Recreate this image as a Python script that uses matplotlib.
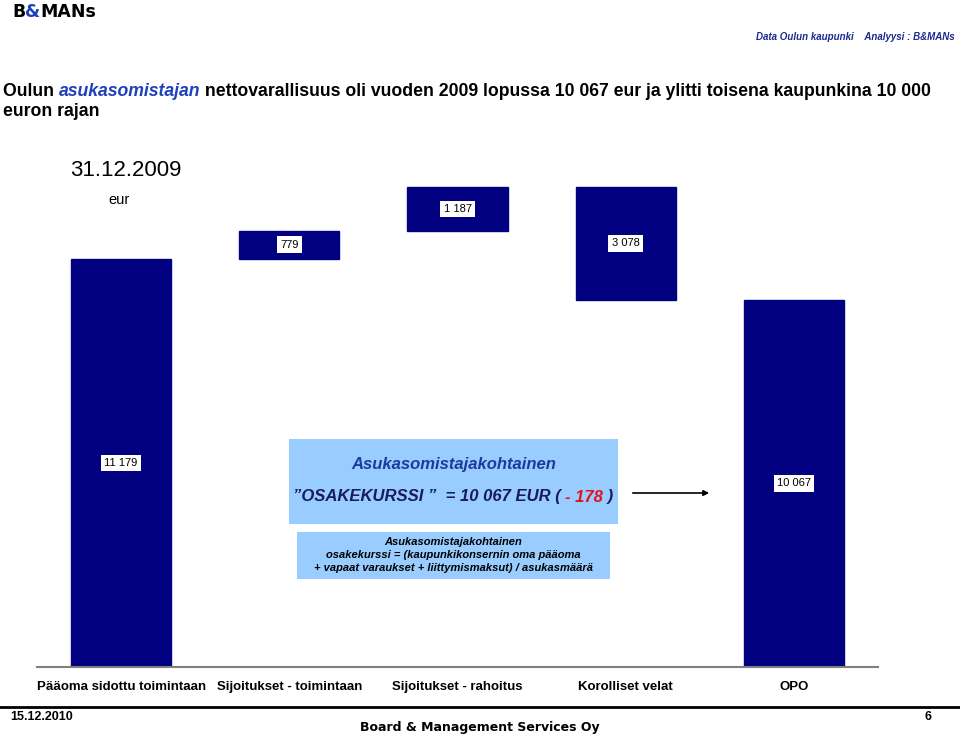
import matplotlib
matplotlib.use("Agg")
import matplotlib.pyplot as plt
from matplotlib import font_manager as fm
from matplotlib.patches import Rectangle, FancyArrowPatch

categories = ["Pääoma sidottu toimintaan", "Sijoitukset - toimintaan",
              "Sijoitukset - rahoitus", "Korolliset velat", "OPO"]
start_value = 11179
changes = [779, 1187, -3078]
end_value = 10067
value_labels = ["11 179", "779", "1 187", "3 078", "10 067"]

names = {f.name for f in fm.fontManager.ttflist}
NARROW = "Liberation Sans Narrow" if "Liberation Sans Narrow" in names else "Liberation Sans"
SANS = "Liberation Sans"
HEAD = "DejaVu Sans"

NAVY = "#000080"
W, H = 960, 735
fig = plt.figure(figsize=(9.6, 7.35), dpi=100)
renderer = fig.canvas.get_renderer()

def fx(x): return x / W
def fy(y): return 1 - y / H

# waterfall geometry from data
bottoms, heights = [0], [start_value]
running = start_value
for d in changes:
    bottoms.append(running if d > 0 else running + d)
    heights.append(abs(d))
    running += d
bottoms.append(0)
heights.append(end_value)

# axes
px_per_unit = 408 / 11179.0
ymax = 14000
ax_h = ymax * px_per_unit
ax = fig.add_axes([fx(37), fy(667), 841 / W, ax_h / H])
ax.set_xlim(-0.5, 4.5)
ax.set_ylim(0, ymax)
xs = list(range(len(categories)))
ax.bar(xs, heights, bottom=bottoms, width=0.595, color=NAVY, edgecolor=NAVY, zorder=2)
for s in ["top", "right", "left"]:
    ax.spines[s].set_visible(False)
ax.spines["bottom"].set_color("#808080")
ax.spines["bottom"].set_linewidth(1.5)
ax.set_yticks([])
ax.set_xticks(xs)
ax.set_xticklabels(categories, fontfamily=NARROW, fontweight="bold", fontsize=9.5)
ax.tick_params(axis="x", length=0, pad=10)

for x, b, h, lab in zip(xs, bottoms, heights, value_labels):
    ax.text(x, b + h / 2, lab, ha="center", va="center", fontsize=8, fontfamily=NARROW,
            bbox=dict(boxstyle="square,pad=0.3", facecolor="white", edgecolor="none"), zorder=3)

# text boxes
fig.patches.append(Rectangle((fx(289), fy(524)), (618 - 289) / W, (524 - 439) / H,
                             transform=fig.transFigure, facecolor="#99CCFF", edgecolor="none", zorder=3))
fig.patches.append(Rectangle((fx(297), fy(579)), (610 - 297) / W, (579 - 532) / H,
                             transform=fig.transFigure, facecolor="#99CCFF", edgecolor="none", zorder=3))
fig.text(fx(454), fy(465), "Asukasomistajakohtainen", ha="center", va="center", fontsize=12,
         fontstyle="italic", fontweight="bold", color="#1F3A9F", fontfamily=SANS, zorder=4)

# second line with red part
pieces = [("\u201dOSAKEKURSSI \u201d  = 10 067 EUR ( ", "#1A1A5E"), ("- 178", "#E0141E"), (" )", "#1A1A5E")]
tmp = []
total = 0
for txt, c in pieces:
    t = fig.text(0, 0, txt, fontsize=12, fontstyle="italic", fontweight="bold", fontfamily=SANS)
    w = t.get_window_extent(renderer).width
    tmp.append((t, w, c))
    total += w
x0 = 453 - total / 2
for t, w, c in tmp:
    t.set_position((fx(x0), fy(497)))
    t.set_va("center"); t.set_color(c); t.set_zorder(4)
    x0 += w

box2 = ["Asukasomistajakohtainen",
        "osakekurssi = (kaupunkikonsernin oma pääoma",
        "+ vapaat varaukset + liittymismaksut) / asukasmäärä"]
for i, line in enumerate(box2):
    fig.text(fx(453), fy(542 + 13 * i), line, ha="center", va="center", fontsize=8,
             fontstyle="italic", fontweight="bold", fontfamily=NARROW, color="black", zorder=4)

fig.patches.append(FancyArrowPatch((fx(630), fy(493)), (fx(712), fy(493)), transform=fig.transFigure,
                                   arrowstyle="-|>", mutation_scale=8, color="black", lw=1.2))

# header
parts = [("B", "black"), ("&", "#1F3FBF"), ("MANs", "black")]
x0 = 12
for txt, c in parts:
    t = fig.text(fx(x0), fy(12), txt, fontsize=12.5, fontweight="bold", fontfamily=HEAD, color=c, va="center")
    x0 += t.get_window_extent(renderer).width
fig.text(fx(955), fy(37), "Data Oulun kaupunki    Analyysi : B&MANs", ha="right", va="center",
         fontsize=7, fontstyle="italic", fontweight="bold", fontfamily=SANS, color="#1A2A8F")

# title (auto-fit line 1 to reference width)
title1 = [("Oulun ", "black", "normal"), ("asukasomistajan", "#1F3FBF", "italic"),
          (" nettovarallisuus oli vuoden 2009 lopussa 10 067 eur ja ylitti toisena kaupunkina 10 000", "black", "normal")]
TFONT = SANS
fs = 13
tw = 0
for txt, c, st in title1:
    t = fig.text(0, 0, txt, fontsize=fs, fontweight="bold", fontstyle=st, fontfamily=TFONT)
    tw += t.get_window_extent(renderer).width
    t.remove()
fs = fs * 924 / tw
x0 = 3
for txt, c, st in title1:
    t = fig.text(fx(x0), fy(91), txt, fontsize=fs, fontweight="bold", fontstyle=st,
                 fontfamily=TFONT, color=c, va="center")
    x0 += t.get_window_extent(renderer).width
fig.text(fx(3), fy(111), "euron rajan", fontsize=fs, fontweight="bold", fontfamily=TFONT, va="center")

fig.text(fx(70), fy(170), "31.12.2009", fontsize=16, fontfamily=NARROW, va="center")
fig.text(fx(119), fy(200), "eur", fontsize=10.5, fontfamily=NARROW, va="center", ha="center")

# footer
fig.add_artist(plt.Line2D([0, 1], [fy(707), fy(707)], transform=fig.transFigure, color="black", lw=2))
fig.text(fx(10), fy(717), "15.12.2010", fontsize=9, fontweight="bold", fontfamily=NARROW, va="center")
fig.text(fx(928), fy(717), "6", fontsize=9, fontweight="bold", fontfamily=NARROW, va="center", ha="center")
fig.text(fx(480), fy(727), "Board & Management Services Oy", fontsize=9, fontweight="bold",
         fontfamily=HEAD, va="center", ha="center")

fig.savefig("out.png", dpi=100)
